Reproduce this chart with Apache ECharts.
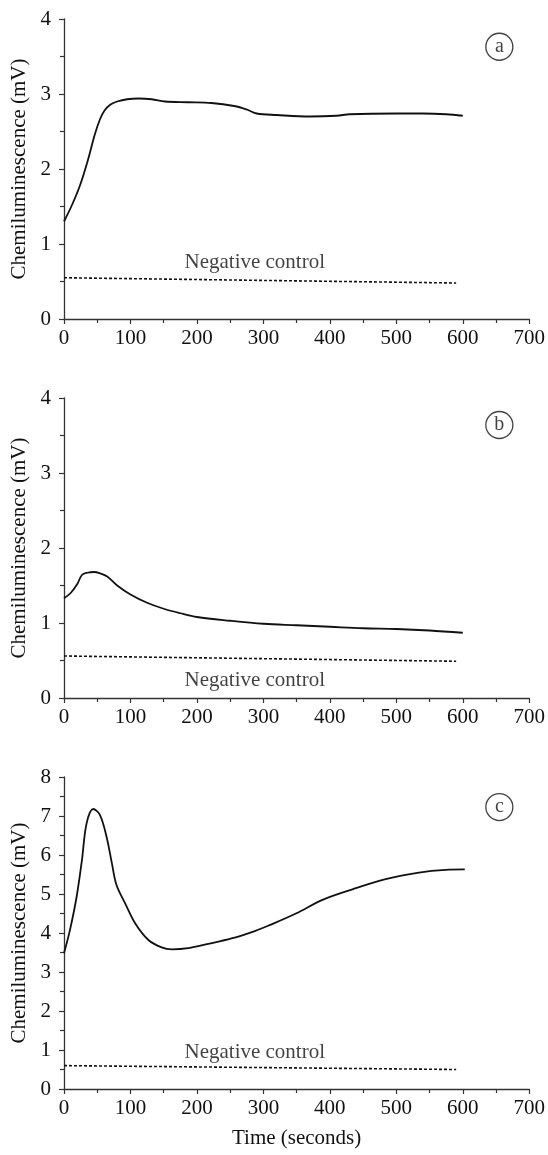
<!DOCTYPE html>
<html><head><meta charset="utf-8">
<script src="https://cdn.jsdelivr.net/npm/echarts@6/dist/echarts.min.js"></script>
<style>html,body{margin:0;padding:0;background:#fff}#c{width:548px;height:1155px}</style>
</head><body><div id="c"></div>
<script>
// Panel a
const timeA = [0, 12, 24, 36, 46, 54, 61, 70, 80, 95, 112, 132, 152, 186, 222, 256, 276, 290, 320, 370, 410, 430, 500, 540, 575, 600];
const chemA = [1.30, 1.52, 1.78, 2.12, 2.45, 2.66, 2.78, 2.86, 2.90, 2.93, 2.94, 2.93, 2.90, 2.89, 2.88, 2.84, 2.79, 2.74, 2.72, 2.70, 2.71, 2.73, 2.74, 2.74, 2.73, 2.71];
// Panel b
const timeB = [0, 10, 20, 27, 35, 45, 55, 65, 80, 100, 125, 150, 175, 200, 250, 300, 350, 400, 450, 500, 550, 600];
const chemB = [1.33, 1.40, 1.52, 1.64, 1.67, 1.68, 1.66, 1.62, 1.50, 1.38, 1.27, 1.19, 1.13, 1.08, 1.03, 0.99, 0.97, 0.95, 0.93, 0.92, 0.90, 0.87];
// Panel c
const timeC = [0, 9, 19, 27, 34, 44, 54, 64, 72, 79, 92, 107, 127, 147, 162, 187, 217, 252, 287, 309, 349, 389, 434, 484, 534, 574, 603];
const chemC = [3.48, 4.08, 4.93, 5.87, 6.81, 7.18, 7.03, 6.47, 5.79, 5.23, 4.76, 4.25, 3.82, 3.63, 3.58, 3.61, 3.72, 3.86, 4.05, 4.20, 4.50, 4.85, 5.12, 5.38, 5.55, 5.62, 5.63];
// Negative controls
const controlTime = [0, 590];
const controlA = [0.55, 0.48];
const controlB = [0.56, 0.49];
const controlC = [0.60, 0.50];
// Axis ranges / labels
const xMax = 700, xInterval = 100;
const yMaxes = [4, 4, 8];
const panelNames = ['a', 'b', 'c'];
const yTitle = 'Chemiluminescence (mV)';
const xTitle = 'Time (seconds)';
const controlText = 'Negative control';

const FONT = '"Liberation Serif","Times New Roman",serif';
const FS = 21;
const TXT = '#111';
const AX = '#333';

const pairs = (t, v) => t.map((x, i) => [x, v[i]]);

const grids = [
  {left: 64, width: 466, top: 19, height: 300},
  {left: 64, width: 466, top: 398, height: 300},
  {left: 64, width: 466, top: 777, height: 312}
];

const axisCommon = {
  axisLine: {lineStyle: {color: AX, width: 1.3}},
  axisTick: {length: 5, lineStyle: {color: AX, width: 1.2}},
  minorTick: {show: true, splitNumber: 2, length: 4, lineStyle: {color: AX, width: 1.2}},
  splitLine: {show: false},
  axisLabel: {fontFamily: FONT, fontSize: FS, color: TXT}
};

const xAxes = grids.map((g, i) => Object.assign({}, axisCommon, {
  type: 'value', gridIndex: i, min: 0, max: xMax, interval: xInterval,
  axisLabel: Object.assign({}, axisCommon.axisLabel, {margin: 9}),
  name: i === 2 ? xTitle : '', nameLocation: 'middle', nameGap: 39,
  nameTextStyle: {fontFamily: FONT, fontSize: FS, color: TXT}
}));

const yAxes = grids.map((g, i) => Object.assign({}, axisCommon, {
  type: 'value', gridIndex: i, min: 0, max: yMaxes[i], interval: 1,
  axisLabel: Object.assign({}, axisCommon.axisLabel, {margin: 13}),
  name: yTitle, nameLocation: 'middle', nameGap: 32,
  nameTextStyle: {fontFamily: FONT, fontSize: FS, color: TXT}
}));

const mainData = [pairs(timeA, chemA), pairs(timeB, chemB), pairs(timeC, chemC)];
const ctrlData = [pairs(controlTime, controlA), pairs(controlTime, controlB), pairs(controlTime, controlC)];
const ctrlLabelPos = [[287, 0.76], [287, 0.24], [287, 0.94]];
const panelLabelPos = [[655, 3.63], [655, 3.64], [655, 7.23]];

const series = [];
for (let i = 0; i < 3; i++) {
  series.push({
    type: 'line', xAxisIndex: i, yAxisIndex: i, data: mainData[i],
    smooth: 0.35, showSymbol: false, symbol: 'none',
    lineStyle: {color: '#111', width: 1.8}
  });
  series.push({
    type: 'line', xAxisIndex: i, yAxisIndex: i, data: ctrlData[i],
    showSymbol: false, symbol: 'none',
    lineStyle: {color: '#111', width: 1.6, type: [3, 2]}
  });
  series.push({
    type: 'scatter', xAxisIndex: i, yAxisIndex: i, data: [ctrlLabelPos[i]],
    symbolSize: 0, silent: true,
    label: {show: true, position: 'inside', formatter: controlText,
            fontFamily: FONT, fontSize: FS, color: TXT}
  });
  series.push({
    type: 'scatter', xAxisIndex: i, yAxisIndex: i, data: [panelLabelPos[i]],
    symbol: 'circle', symbolSize: 27, silent: true,
    itemStyle: {color: '#fff', borderColor: '#111', borderWidth: 1.3},
    label: {show: true, position: 'inside', formatter: panelNames[i],
            fontFamily: FONT, fontSize: 20, color: TXT}
  });
}

const chart = echarts.init(document.getElementById('c'), null, {renderer: 'canvas'});
chart.setOption({
  animation: false,
  backgroundColor: '#fff',
  grid: grids,
  xAxis: xAxes,
  yAxis: yAxes,
  series: series
});
</script>
</body></html>
